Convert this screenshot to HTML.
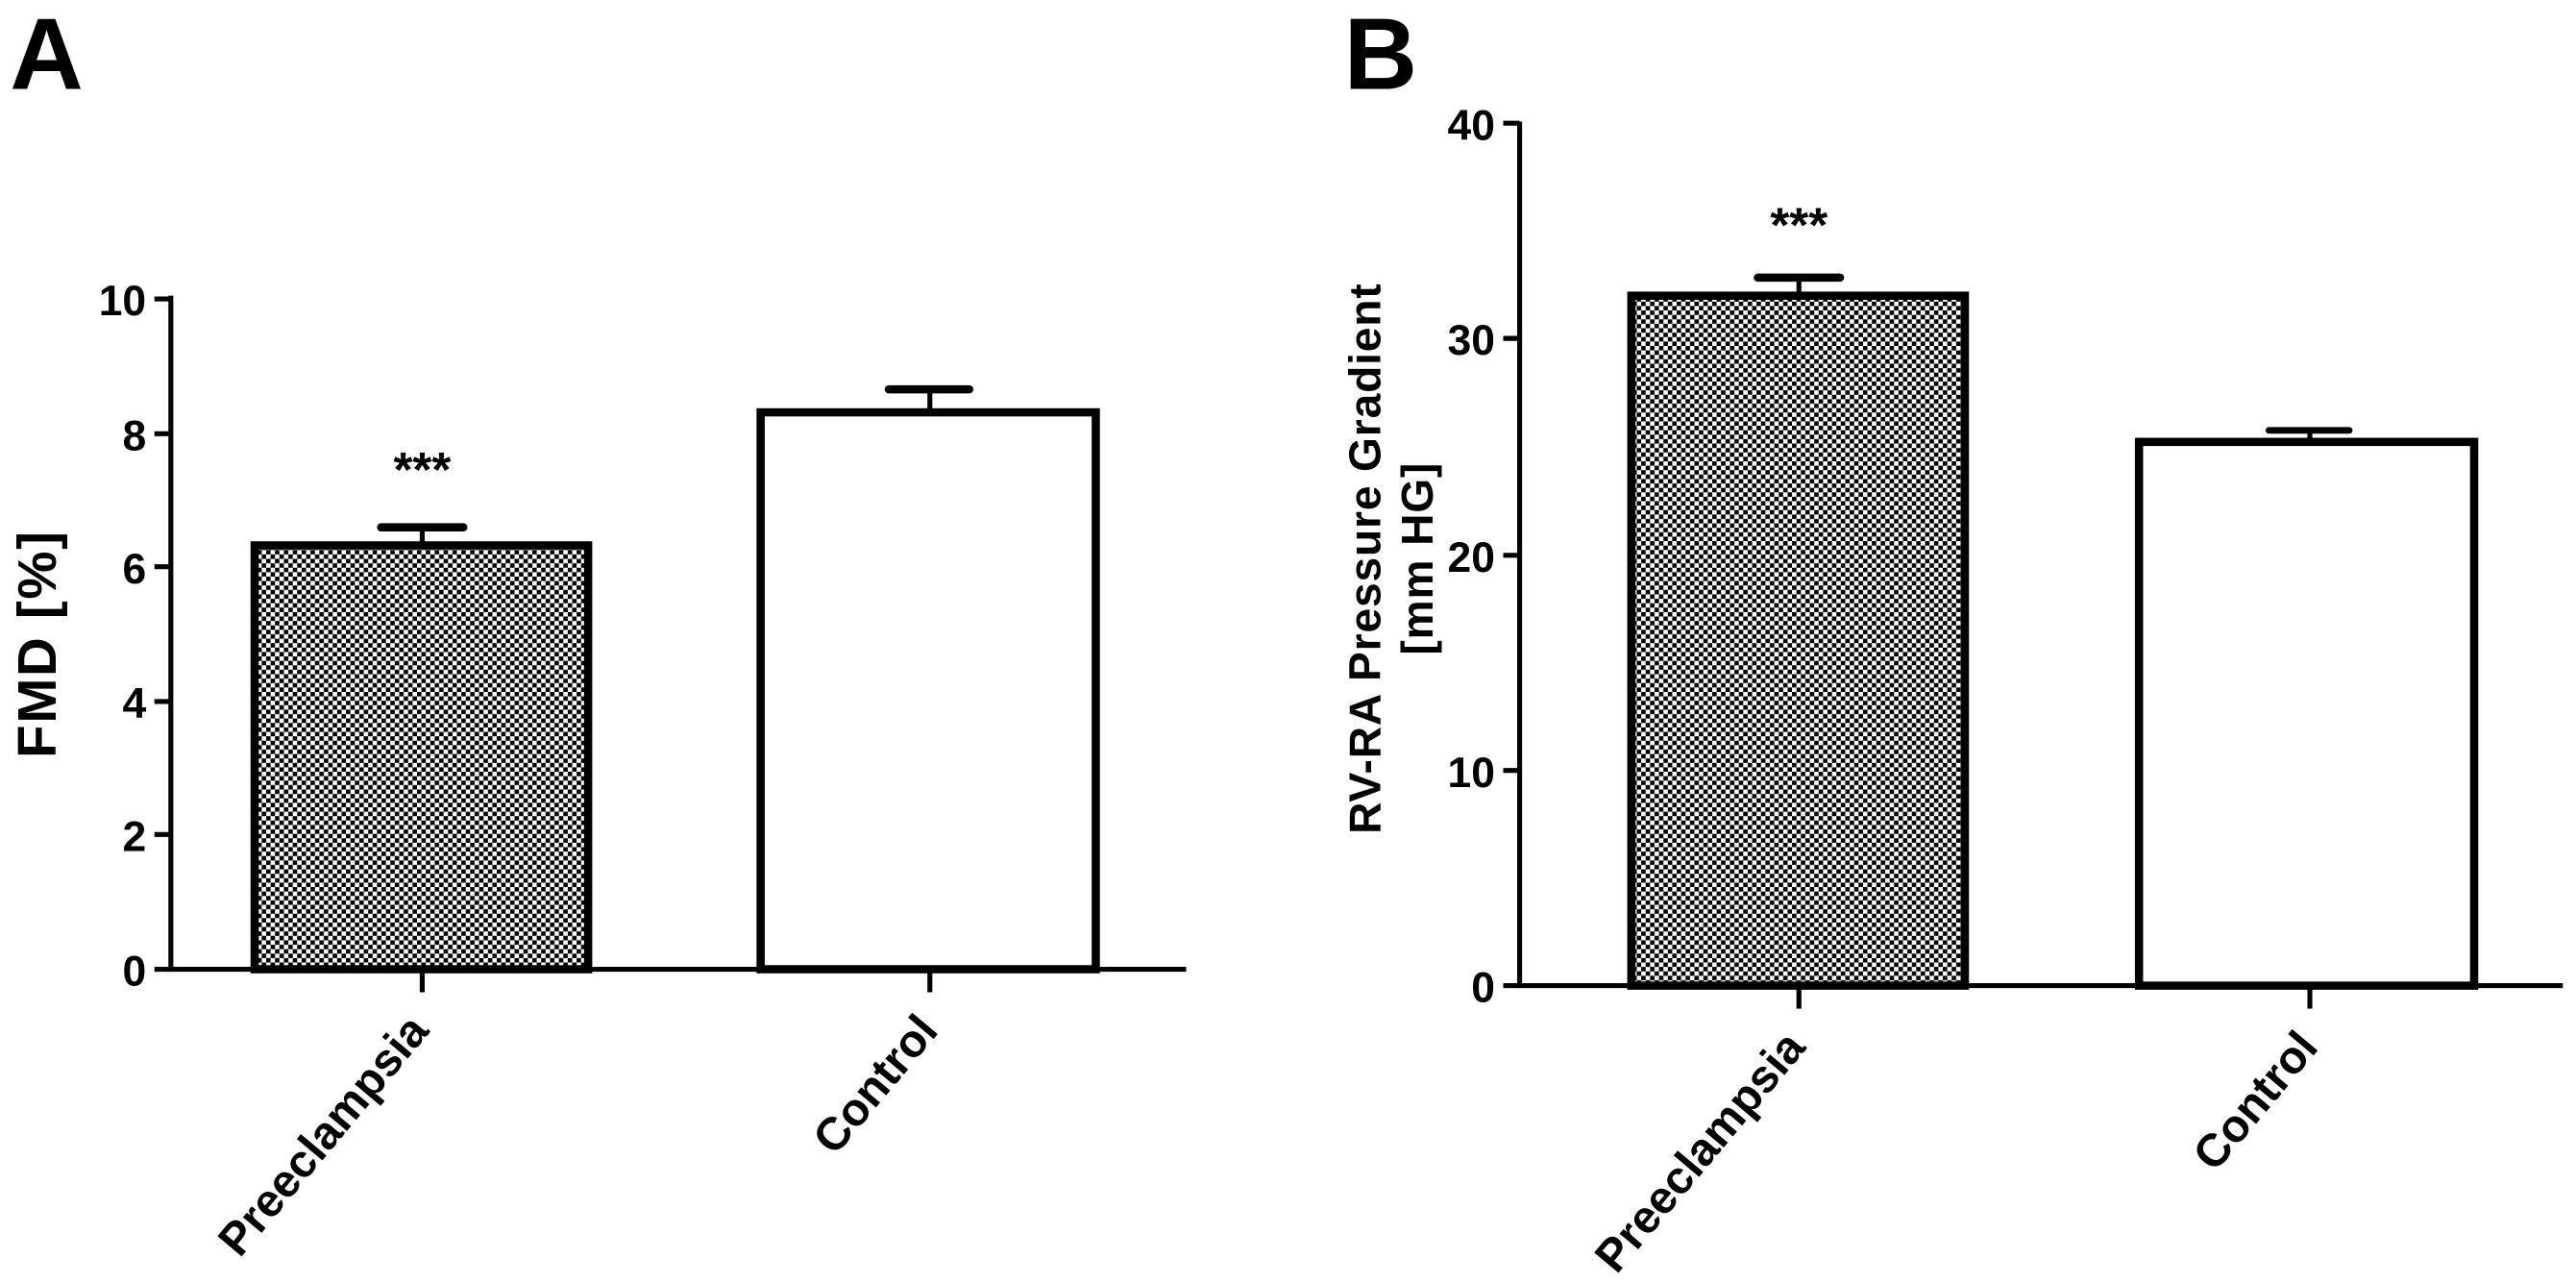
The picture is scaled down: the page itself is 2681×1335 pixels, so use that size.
<!DOCTYPE html>
<html><head><meta charset="utf-8"><style>
html,body{margin:0;padding:0;background:#fff;}
svg{display:block;}
text{font-family:"Liberation Sans",Arial,sans-serif;font-weight:bold;fill:#000;}
</style></head><body>
<svg width="2681" height="1335" viewBox="0 0 1568 781" preserveAspectRatio="none" xmlns="http://www.w3.org/2000/svg">
<defs>
<pattern id="chk" patternUnits="userSpaceOnUse" width="5.4" height="5.4">
<rect width="5.4" height="5.4" fill="#fff"/>
<rect x="0" y="0" width="2.7" height="2.7" fill="#000"/>
<rect x="2.7" y="2.7" width="2.7" height="2.7" fill="#000"/>
</pattern>
</defs>
<rect width="1568" height="781" fill="#fff"/>

<!-- Panel A -->
<text x="6" y="54" font-size="62">A</text>
<g stroke="#000" stroke-width="3" fill="none">
<line x1="104" y1="180" x2="104" y2="591"/>
<line x1="102" y1="590" x2="722" y2="590"/>
<line x1="94" y1="182" x2="104" y2="182"/>
<line x1="94" y1="264" x2="104" y2="264"/>
<line x1="94" y1="345" x2="104" y2="345"/>
<line x1="94" y1="427" x2="104" y2="427"/>
<line x1="94" y1="508" x2="104" y2="508"/>
<line x1="94" y1="590" x2="104" y2="590"/>
<line x1="257" y1="590" x2="257" y2="604"/>
<line x1="566" y1="590" x2="566" y2="604"/>
</g>
<g font-size="26" text-anchor="end">
<text x="89" y="192">10</text>
<text x="89" y="274">8</text>
<text x="89" y="355">6</text>
<text x="89" y="437">4</text>
<text x="89" y="518">2</text>
<text x="89" y="600">0</text>
</g>
<text transform="translate(34,392) rotate(-90)" font-size="33" text-anchor="middle" letter-spacing="1">FMD [%]</text>
<rect x="155" y="332" width="203" height="258" fill="url(#chk)" stroke="#000" stroke-width="5"/>
<line x1="257" y1="330" x2="257" y2="321" stroke="#000" stroke-width="3"/>
<line x1="232" y1="321" x2="282" y2="321" stroke="#000" stroke-width="5" stroke-linecap="round"/>
<rect x="463" y="251" width="204" height="339" fill="#fff" stroke="#000" stroke-width="5"/>
<line x1="566" y1="249" x2="566" y2="237" stroke="#000" stroke-width="3"/>
<line x1="541" y1="237" x2="590" y2="237" stroke="#000" stroke-width="5" stroke-linecap="round"/>
<text x="257" y="296" font-size="30" text-anchor="middle">***</text>
<text transform="translate(262,628) rotate(-50)" font-size="28" text-anchor="end">Preeclampsia</text>
<text transform="translate(572,628) rotate(-50)" font-size="28" text-anchor="end">Control</text>

<!-- Panel B -->
<text x="818" y="54" font-size="62">B</text>
<g stroke="#000" stroke-width="3" fill="none">
<line x1="925" y1="74" x2="925" y2="601"/>
<line x1="923" y1="600" x2="1560" y2="600"/>
<line x1="915" y1="75" x2="925" y2="75"/>
<line x1="915" y1="206" x2="925" y2="206"/>
<line x1="915" y1="338" x2="925" y2="338"/>
<line x1="915" y1="469" x2="925" y2="469"/>
<line x1="915" y1="600" x2="925" y2="600"/>
<line x1="1095" y1="600" x2="1095" y2="614"/>
<line x1="1406" y1="600" x2="1406" y2="614"/>
</g>
<g font-size="26" text-anchor="end">
<text x="910" y="85">40</text>
<text x="910" y="216">30</text>
<text x="910" y="348">20</text>
<text x="910" y="479">10</text>
<text x="910" y="610">0</text>
</g>
<text transform="translate(840,340) rotate(-90)" font-size="27" text-anchor="middle" letter-spacing="0.5">RV-RA Pressure Gradient</text>
<text transform="translate(872,340) rotate(-90)" font-size="27" text-anchor="middle" letter-spacing="0.5">[mm HG]</text>
<rect x="993" y="180" width="203" height="420" fill="url(#chk)" stroke="#000" stroke-width="5"/>
<line x1="1095" y1="178" x2="1095" y2="169" stroke="#000" stroke-width="3"/>
<line x1="1070" y1="169" x2="1120" y2="169" stroke="#000" stroke-width="5" stroke-linecap="round"/>
<rect x="1302" y="269" width="204" height="331" fill="#fff" stroke="#000" stroke-width="5"/>
<line x1="1406" y1="267" x2="1406" y2="262" stroke="#000" stroke-width="3"/>
<line x1="1381" y1="262" x2="1430" y2="262" stroke="#000" stroke-width="4" stroke-linecap="round"/>
<text x="1095" y="147" font-size="30" text-anchor="middle">***</text>
<text transform="translate(1100,638) rotate(-50)" font-size="28" text-anchor="end">Preeclampsia</text>
<text transform="translate(1412,638) rotate(-50)" font-size="28" text-anchor="end">Control</text>
</svg>
</body></html>
